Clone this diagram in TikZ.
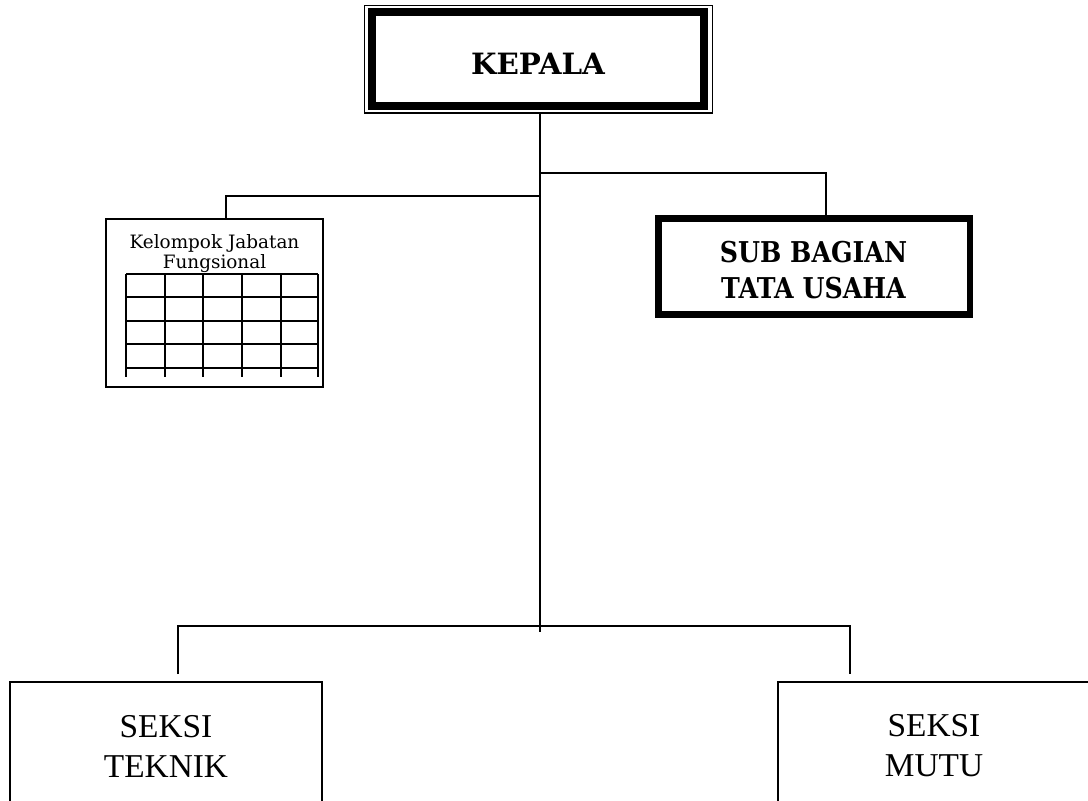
\documentclass[tikz,border=0pt]{standalone}
\usepackage{fontspec}
\setmainfont{DejaVu Serif}
\newfontfamily\seksifont{Liberation Serif}
\usetikzlibrary{calc}
\begin{document}
\begin{tikzpicture}[x=0.75pt,y=-0.75pt,
  conn/.style={line width=1.5pt},
  boxbase/.style={draw, inner sep=0pt, outer sep=0pt, anchor=north west, align=center},
  thinbox/.style={boxbase, line width=1.1pt},
  thickbox/.style={boxbase, line width=4.9pt},
  gridline/.style={line width=1.5pt},
  kepfont/.style={font=\fontsize{22pt}{27pt}\selectfont\bfseries},
  subfont/.style={font=\fontsize{21.5pt}{27pt}\selectfont\bfseries, xscale=0.88, transform shape},
  kjffont/.style={font=\fontsize{13.8pt}{15pt}\selectfont},
  seksi/.style={font=\seksifont\fontsize{25pt}{30pt}\selectfont}]
\useasboundingbox (0,0) rectangle (1088,800);
\clip (0,0) rectangle (1088,800);
% KEPALA
\node[thinbox, minimum width=261pt, minimum height=80.6pt] (kepala) at (364.5,5.5) {};
\draw[line width=6pt] ($(kepala.north west)+(7.2,6.8)$) rectangle ($(kepala.south east)+(-8.2,-6.7)$);
\node[kepfont, anchor=base] (kepalatxt) at (538,74) {KEPALA};
% Kelompok Jabatan Fungsional
\node[thinbox, line width=1.5pt, minimum width=162.75pt, minimum height=126pt] (kjf) at (106,219) {};
\node[kjffont, align=center] (kjftxt) at (214.5,254) {Kelompok Jabatan\\Fungsional};
\foreach \y in {274,297,321,344,368} \draw[gridline] (126,\y) -- (318,\y);
\foreach \x in {126,165,203,242,281,318} \draw[gridline] (\x,274) -- (\x,377);
% SUB BAGIAN
\node[thickbox, minimum width=233.6pt, minimum height=72pt] (sub) at (658.5,218.5) {};
\node[subfont, align=center] (subtxt) at (813.5,270) {SUB BAGIAN\\TATA USAHA};
% Seksi
\node[thinbox, minimum width=234pt, minimum height=96pt, seksi] (teknik) at (10,682) {SEKSI\\TEKNIK};
\node[thinbox, minimum width=234pt, minimum height=96pt, seksi] (mutu) at (778,682) {SEKSI\\MUTU};
% connectors
\coordinate (t1) at (540,196);
\coordinate (t2) at (540,173);
\coordinate (tend) at (540,632);
\coordinate (barl) at (178,626);
\coordinate (barr) at (850,626);
\coordinate (dl) at (178,674);
\coordinate (dr) at (850,674);
\draw[conn] (kepala.south -| tend) -- (tend);
\draw[conn] (t1) -| ($(kjf.north west)+(120,0)$);
\draw[conn] (t2) -| ($(sub.north)+(12,0)$);
\draw[conn] (dl) -- (barl) -- (barr) -- (dr);
\end{tikzpicture}
\end{document}
